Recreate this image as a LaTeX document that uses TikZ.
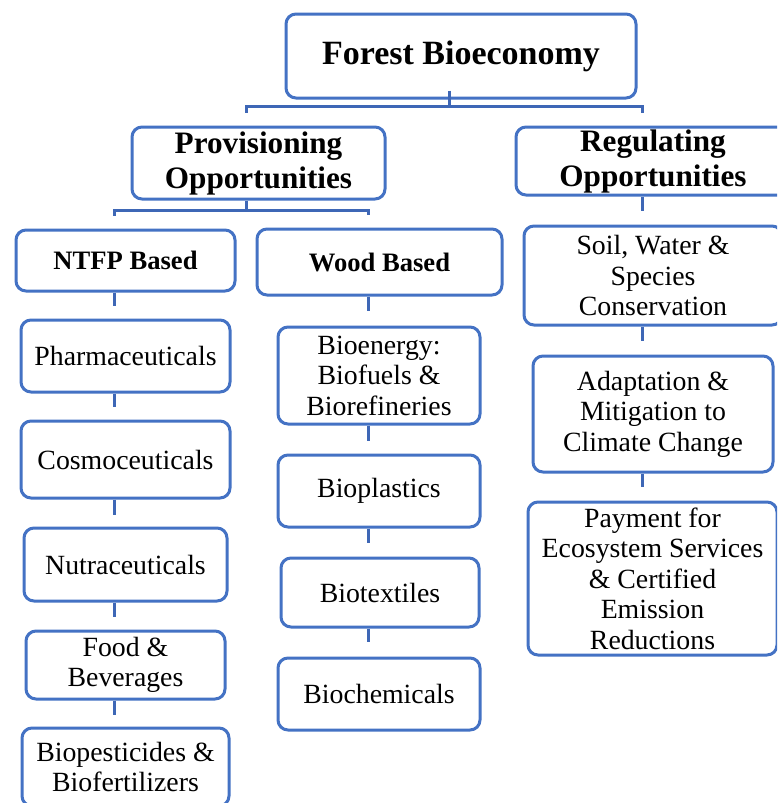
\documentclass[tikz,border=0pt]{standalone}
\usepackage{fontspec}
\setmainfont{Liberation Serif}
\usetikzlibrary{calc}
\definecolor{boxblue}{HTML}{4472C4}
\definecolor{linkblue}{HTML}{3E67B6}
\tikzset{
  box/.style={draw=boxblue, line width=1.5pt, rounded corners=5pt, fill=white,
    align=center, inner sep=0pt, text=black,
    font=\fontsize{13.9}{15.25}\selectfont},
  titlebox/.style={box, font=\bfseries\fontsize{17}{19}\selectfont},
  levelbox/.style={box, font=\bfseries\fontsize{15.6}{17.5}\selectfont},
  subbox/.style={box, font=\bfseries\fontsize{13.3}{15.5}\selectfont},
  link/.style={draw=linkblue, line width=1.5pt},
}
\begin{document}
\begin{tikzpicture}[x=0.5pt,y=-0.5pt]
\useasboundingbox (0,0) rectangle (777,803);
\clip (0,0) rectangle (777,803);
\fill[white] (0,0) rectangle (777,803);
% column axes
\coordinate (cT) at (449,0);
\coordinate (cP) at (246,0);
\coordinate (cL) at (114,0);
\coordinate (cM) at (368,0);
\coordinate (cR) at (642,0);
\coordinate (hTop) at (0,106);
\coordinate (hProv) at (0,210);
\coordinate (topL) at (cP |- hTop);
\coordinate (topR) at (cR |- hTop);
\coordinate (provL) at (cL |- hProv);
\coordinate (provR) at (cM |- hProv);
% boxes
\node[titlebox, minimum width=175pt, minimum height=42pt] (forest) at (461,56) {Forest Bioeconomy};
\node[levelbox, minimum width=126.5pt, minimum height=36pt] (prov) at (258.5,163) {\rule{0pt}{3pt}Provisioning\\Opportunities};
\node[levelbox, minimum width=137pt, minimum height=34pt] (reg) at (653,161) {\rule{0pt}{3pt}Regulating\\Opportunities};
\node[subbox, minimum width=109.5pt, minimum height=30.5pt] (ntfp) at (125.5,260.5) {NTFP Based};
\node[box, minimum width=104.5pt, minimum height=36pt] (pharma) at (125.5,356) {Pharmaceuticals};
\node[box, minimum width=104.5pt, minimum height=38.5pt] (cosmo) at (125.5,459.5) {Cosmoceuticals};
\node[box, minimum width=101.5pt, minimum height=36.5pt] (nutra) at (125.5,564.5) {Nutraceuticals};
\node[box, minimum width=99.5pt, minimum height=34pt] (food) at (125.5,665) {Food \&\\Beverages};
\node[box, minimum width=103.5pt, minimum height=39pt] (biopest) at (125.5,767) {Biopesticides \&\\Biofertilizers};
\node[subbox, minimum width=122.5pt, minimum height=33pt] (wood) at (379.5,262) {Wood Based};
\node[box, minimum width=101pt, minimum height=48.5pt] (bioen) at (379,375.5) {Bioenergy:\\Biofuels \&\\Biorefineries};
\node[box, minimum width=101pt, minimum height=36pt] (biopl) at (379,491) {Bioplastics};
\node[box, minimum width=99pt, minimum height=34.5pt] (biotex) at (380,592.5) {Biotextiles};
\node[box, minimum width=101pt, minimum height=36pt] (biochem) at (379,694) {Biochemicals};
\node[box, minimum width=129pt, minimum height=49.5pt] (soil) at (653,275.5) {Soil, Water \&\\Species\\Conservation};
\node[box, minimum width=120pt, minimum height=58pt] (adapt) at (653,414) {Adaptation \&\\Mitigation to\\Climate Change};
\node[box, minimum width=124.5pt, minimum height=76.5pt] (pay) at (652.5,578.5) {Payment for\\Ecosystem Services\\\& Certified\\Emission\\Reductions};
% top level connectors
\draw[link] ($(forest.south -| cT)+(0,-9)$) -- (cT |- hTop);
\draw[link] ($(prov.north -| cP)+(0,-13)$) -- (topL) -- (topR) -- ($(reg.north -| cR)+(0,-13)$);
% provisioning connectors
\draw[link] (prov.south -| cP) -- (cP |- hProv);
\draw[link] ($(ntfp.north -| cL)+(0,-13)$) -- (provL) -- (provR) -- ($(wood.north -| cM)+(0,-13)$);
% regulating column
\draw[link] (reg.south -| cR) -- ($(soil.north -| cR)+(0,-14)$);
\draw[link] (soil.south -| cR) -- ($(adapt.north -| cR)+(0,-14)$);
\draw[link] (adapt.south -| cR) -- ($(pay.north -| cR)+(0,-14)$);
% NTFP column
\draw[link] (ntfp.south -| cL) -- ($(pharma.north -| cL)+(0,-13)$);
\draw[link] (pharma.south -| cL) -- ($(cosmo.north -| cL)+(0,-13)$);
\draw[link] (cosmo.south -| cL) -- ($(nutra.north -| cL)+(0,-12)$);
\draw[link] (nutra.south -| cL) -- ($(food.north -| cL)+(0,-13)$);
\draw[link] (food.south -| cL) -- ($(biopest.north -| cL)+(0,-12)$);
% Wood column
\draw[link] (wood.south -| cM) -- ($(bioen.north -| cM)+(0,-15)$);
\draw[link] (bioen.south -| cM) -- ($(biopl.north -| cM)+(0,-13)$);
\draw[link] (biopl.south -| cM) -- ($(biotex.north -| cM)+(0,-14)$);
\draw[link] (biotex.south -| cM) -- ($(biochem.north -| cM)+(0,-15)$);
\end{tikzpicture}
\end{document}
